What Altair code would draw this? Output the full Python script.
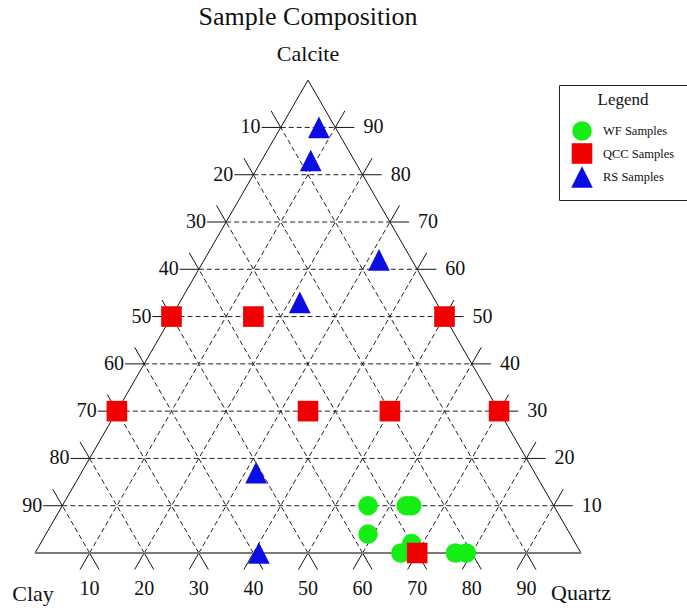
import math
import altair as alt
import pandas as pd

# ---- sample compositions (percent): calcite, quartz, clay ----
wf_calcite = [10, 10, 10, 4, 0, 2, 0, 0]
wf_quartz = [56, 63, 64, 59, 67, 68, 77, 79]
wf_clay = [34, 27, 26, 37, 33, 30, 23, 21]

qcc_calcite = [50, 50, 50, 30, 30, 30, 30, 0]
qcc_quartz = [0, 15, 50, 0, 35, 50, 70, 70]
qcc_clay = [50, 35, 0, 70, 35, 20, 0, 30]

rs_calcite = [90, 83, 62, 53, 17, 0]
rs_quartz = [7, 9, 32, 22, 32, 41]
rs_clay = [3, 8, 6, 25, 51, 59]

groups = ["WF Samples", "QCC Samples", "RS Samples"]
colors = ["#14ee14", "#f00000", "#0c0ce4"]
shapes = ["circle", "square", "M0,-1L1,1L-1,1Z"]
sizes = [380, 470, 441]

ticks = [10, 20, 30, 40, 50, 60, 70, 80, 90]

# ---- layout ----
FONT = "Liberation Serif"
W, HGT = 687, 608
PX = 5.46            # pixels per percent along the base
X0, Y0 = 35, 553     # pixel position of the Clay corner
H = math.sqrt(3) / 2
EXT = 3.5            # length of the solid tick stubs outside the triangle

x_scale = alt.Scale(domain=[-X0 / PX, (W - X0) / PX], nice=False, zero=False)
y_scale = alt.Scale(domain=[-(HGT - Y0) / PX, Y0 / PX], nice=False, zero=False)
X = lambda f: alt.X(f, type="quantitative", scale=x_scale, axis=None)
Y = lambda f: alt.Y(f, type="quantitative", scale=y_scale, axis=None)

# ---- sample table ----
rows = []
for g, cs, qs, ls in [
    (groups[0], wf_calcite, wf_quartz, wf_clay),
    (groups[1], qcc_calcite, qcc_quartz, qcc_clay),
    (groups[2], rs_calcite, rs_quartz, rs_clay),
]:
    for c, q, l in zip(cs, qs, ls):
        rows.append({"group": g, "calcite": c, "quartz": q, "clay": l})
samples = pd.DataFrame(rows)

# ---- grid segments ----
inner, outer = [], []


def add(kind, a, b):
    kind.append({"x": a[0], "y": a[1], "x2": b[0], "y2": b[1]})


for v in ticks:
    # constant calcite (horizontal)
    y = v * H
    xl, xr = v / 2, 100 - v / 2
    add(inner, (xl, y), (xr, y))
    add(outer, (xl - EXT, y), (xl, y))
    add(outer, (xr, y), (xr + EXT, y))
    # constant clay (parallel to the right edge)
    b = (100 - v, 0.0)
    t = ((100 - v) / 2, (100 - v) * H)
    add(inner, b, t)
    add(outer, t, (t[0] - 0.5 * EXT, t[1] + H * EXT))
    add(outer, b, (b[0] + 0.5 * EXT, -H * EXT))
    # constant quartz (parallel to the left edge)
    b = (v, 0.0)
    t = (v + (100 - v) / 2, (100 - v) * H)
    add(inner, b, t)
    add(outer, t, (t[0] + 0.5 * EXT, t[1] + H * EXT))
    add(outer, b, (b[0] - 0.5 * EXT, -H * EXT))

inner_df = pd.DataFrame(inner)
outer_df = pd.DataFrame(outer)
sides_df = pd.DataFrame([
    {"x": 0, "y": 0, "x2": 50, "y2": 100 * H},
    {"x": 100, "y": 0, "x2": 50, "y2": 100 * H},
])
base_df = pd.DataFrame([{"x": 0, "y": 0, "x2": 100, "y2": 0}])


def rules(df, **kw):
    return alt.Chart(df).mark_rule(**kw).encode(
        x=X("x"), y=Y("y"), x2="x2", y2="y2"
    )


grid_in = rules(inner_df, color="#222", strokeWidth=1, strokeDash=[5, 3])
grid_out = rules(outer_df, color="#111", strokeWidth=1)
sides = rules(sides_df, color="#111", strokeWidth=1)
base = rules(base_df, color="#7a7a7a", strokeWidth=2)

# ---- tick labels ----
left_lab = pd.DataFrame({"x": [v / 2 - EXT for v in ticks],
                         "y": [v * H for v in ticks],
                         "t": [str(100 - v) for v in ticks]})
right_lab = pd.DataFrame({"x": [100 - v / 2 + EXT for v in ticks],
                          "y": [v * H for v in ticks],
                          "t": [str(v) for v in ticks]})
bottom_lab = pd.DataFrame({"x": ticks, "y": [0] * len(ticks),
                           "t": [str(v) for v in ticks]})


def texts(df, size, **kw):
    return alt.Chart(df).mark_text(font=FONT, fontSize=size, color="#111",
                                   baseline="middle", **kw).encode(
        x=X("x"), y=Y("y"), text="t:N"
    )


lab_left = texts(left_lab, 20, align="right", dx=-1)
lab_right = texts(right_lab, 20, align="left", dx=9)
lab_bottom = texts(bottom_lab, 20, align="center", dy=36)

apex = pd.DataFrame({"x": [50], "y": [100 * H], "t": ["Calcite"]})
title_df = pd.DataFrame({"x": [50], "y": [100 * H], "t": ["Sample Composition"]})
clay_df = pd.DataFrame({"x": [0], "y": [0], "t": ["Clay"]})
quartz_df = pd.DataFrame({"x": [100], "y": [0], "t": ["Quartz"]})

t_title = texts(title_df, 26, align="center", dy=-63)
t_calcite = texts(apex, 22, align="center", dy=-26)
t_clay = texts(clay_df, 22, align="center", dx=-2, dy=41)
t_quartz = texts(quartz_df, 22, align="center", dy=40)

# ---- samples ----
legend = alt.Legend(
    title="Legend", orient="none", legendX=559, legendY=85,
    titleAnchor="middle", titleFont=FONT, titleFontSize=17,
    titleFontWeight="normal", titleColor="#111", titlePadding=7,
    titleBaseline="line-top", titleLineHeight=6,
    labelFont=FONT, labelFontSize=12.5, labelColor="#111", labelOffset=10,
    labelExpr="datum.label + '          '",
    symbolStrokeWidth=0, symbolOpacity=1,
    padding=12, rowPadding=2,
    strokeColor="#222", fillColor="white",
)

points = alt.Chart(samples).transform_calculate(
    px="datum.quartz + datum.calcite / 2",
    py="datum.calcite * sqrt(3) / 2",
).mark_point(filled=True, opacity=1, strokeWidth=0).encode(
    x=X("px"),
    y=Y("py"),
    color=alt.Color("group:N", scale=alt.Scale(domain=groups, range=colors),
                    title="Legend", legend=legend),
    shape=alt.Shape("group:N", scale=alt.Scale(domain=groups, range=shapes),
                    title="Legend", legend=legend),
    size=alt.Size("group:N", scale=alt.Scale(domain=groups, range=sizes),
                  title="Legend", legend=legend),
)

chart = alt.layer(
    grid_in, grid_out, sides, base,
    lab_left, lab_right, lab_bottom,
    t_title, t_calcite, t_clay, t_quartz,
    points,
).properties(
    width=W, height=HGT,
    autosize=alt.AutoSizeParams(type="none"),
    padding=0,
).configure_view(stroke=None)

chart.save("out.html", embed_options={"renderer": "svg", "actions": False})
